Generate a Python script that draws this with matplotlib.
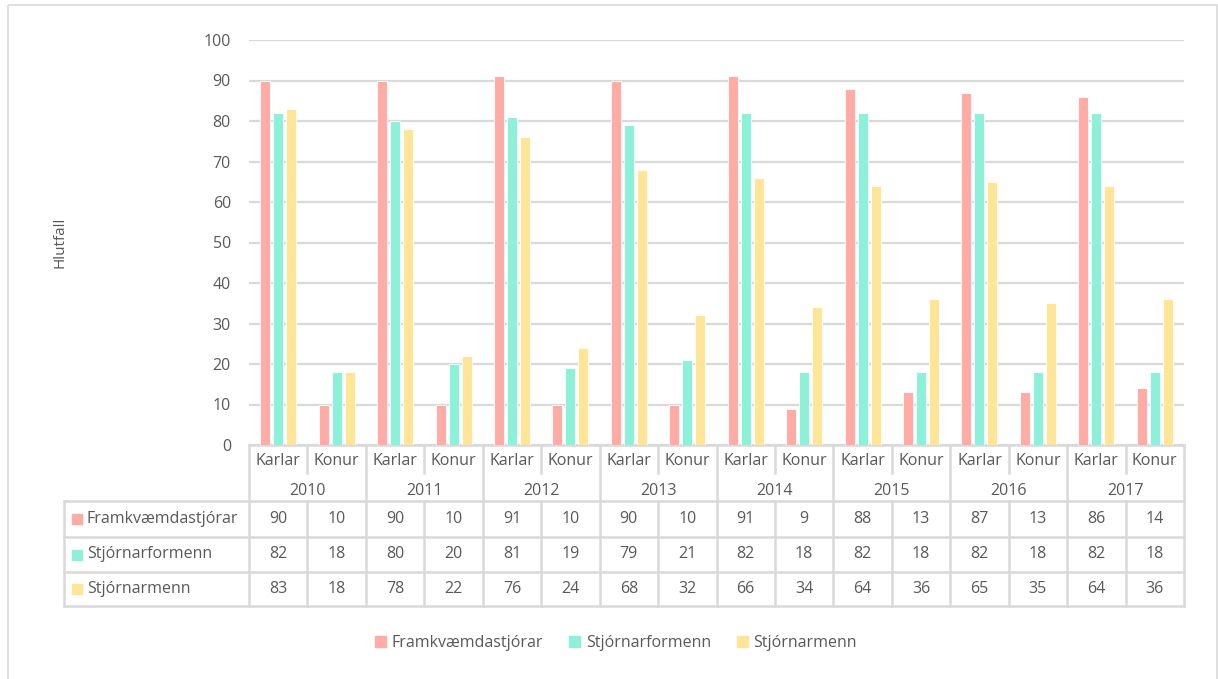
import matplotlib
matplotlib.use("Agg")
import matplotlib.pyplot as plt
from matplotlib.patches import Rectangle
from matplotlib.lines import Line2D

# Data
years = ["2010", "2011", "2012", "2013", "2014", "2015", "2016", "2017"]
genders = ["Karlar", "Konur"]
series_names = ["Framkvæmdastjórar", "Stjórnarformenn", "Stjórnarmenn"]
framkvaemdastjorar = [90, 10, 90, 10, 91, 10, 90, 10, 91, 9, 88, 13, 87, 13, 86, 14]
stjornarformenn = [82, 18, 80, 20, 81, 19, 79, 21, 82, 18, 82, 18, 82, 18, 82, 18]
stjornarmenn = [83, 18, 78, 22, 76, 24, 68, 32, 66, 34, 64, 36, 65, 35, 64, 36]
yticks = [0, 10, 20, 30, 40, 50, 60, 70, 80, 90, 100]
ylabel = "Hlutfall"

series = [framkvaemdastjorar, stjornarformenn, stjornarmenn]
colors = ["#FFACA7", "#8DF0D8", "#FFE598"]
text_color = "#595959"
grid_color = "#D9D9D9"

plt.rcParams["font.family"] = ["Open Sans", "DejaVu Sans"]

W, H = 1218, 679
fig = plt.figure(figsize=(W / 100, H / 100), dpi=100)

# Main bar axes
ax_l, ax_r, ax_t, ax_b = 249, 1184, 40, 445
ax = fig.add_axes([ax_l / W, 1 - ax_b / H, (ax_r - ax_l) / W, (ax_b - ax_t) / H])
n = len(years) * len(genders)
ax.set_xlim(-0.5, n - 0.5)
ax.set_ylim(0, 100)
px_per_cat = (ax_r - ax_l) / n
bw = 10 / px_per_cat
off = 13 / px_per_cat
for k, (vals, col, name) in enumerate(zip(series, colors, series_names)):
    xs = [i + (k - 1) * off for i in range(n)]
    ax.bar(xs, vals, width=bw, color=col, edgecolor="white", linewidth=0.6,
           label=name, zorder=3)

ax.set_yticks(yticks)
ax.set_yticklabels([str(v) for v in yticks])
ax.tick_params(axis="y", length=0, pad=13, labelsize=11.5, labelcolor=text_color)
ax.set_xticks([])
ax.grid(axis="y", color=grid_color, linewidth=1.6, zorder=0)
for s in ax.spines.values():
    s.set_visible(False)

# Overlay in pixel coordinates for the data table and frame
ov = fig.add_axes([0, 0, 1, 1], zorder=-1)
ov.set_xlim(0, W)
ov.set_ylim(H, 0)
ov.axis("off")
ov.patch.set_alpha(0)

# outer frame
ov.add_patch(Rectangle((8, 5), 1209, 700, fill=False, edgecolor=grid_color, linewidth=1.2))

def xpix(xdata):
    return ax.transData.transform((xdata, 0))[0]

edges = [xpix(i - 0.5) for i in range(n + 1)]
centers = [xpix(i) for i in range(n)]

lw = 1.8
hdr_top, hdr_mid, hdr_bot = 445, 473, 501
row_lines = [501, 537, 572, 606]
tbl_left = 64
fs = 11.5

# header top line
ov.add_line(Line2D([edges[0], edges[-1]], [hdr_top, hdr_top], color=grid_color, lw=lw))
# vertical lines
for i, e in enumerate(edges):
    if i % 2 == 0:
        ov.add_line(Line2D([e, e], [hdr_top, row_lines[-1]], color=grid_color, lw=lw))
    else:
        ov.add_line(Line2D([e, e], [hdr_top, hdr_mid], color=grid_color, lw=lw))
        ov.add_line(Line2D([e, e], [row_lines[0], row_lines[-1]], color=grid_color, lw=lw))
ov.add_line(Line2D([tbl_left, tbl_left], [row_lines[0], row_lines[-1]], color=grid_color, lw=lw))
for y in row_lines:
    ov.add_line(Line2D([tbl_left, edges[-1]], [y, y], color=grid_color, lw=lw))

# header texts
for i in range(n):
    ov.text(centers[i], 461, genders[i % 2], ha="center", va="center",
            fontsize=fs, color=text_color)
for j, yr in enumerate(years):
    cx = (edges[2 * j] + edges[2 * j + 2]) / 2
    ov.text(cx, 491, yr, ha="center", va="center", fontsize=fs, color=text_color)

# data rows
for r, (vals, col, name) in enumerate(zip(series, colors, series_names)):
    cy = (row_lines[r] + row_lines[r + 1]) / 2
    ov.add_patch(Rectangle((72, cy - 5), 10, 10, color=col))
    ov.text(87, cy, name, ha="left", va="center", fontsize=fs, color=text_color)
    for i, v in enumerate(vals):
        ov.text(centers[i], cy, str(v), ha="center", va="center",
                fontsize=fs, color=text_color)

# y label
fig.text(60 / W, 1 - 242 / H, ylabel, rotation=90, ha="center", va="center",
         fontsize=11, color=text_color)

# legend
handles = [Rectangle((0, 0), 1, 1, color=c) for c in colors]
leg = fig.legend(handles, series_names, loc="center", bbox_to_anchor=(616 / W, 1 - 643 / H),
                 ncol=3, frameon=False, fontsize=fs, handlelength=0.7, handleheight=0.7,
                 handletextpad=0.35, columnspacing=1.6)
for t in leg.get_texts():
    t.set_color(text_color)

fig.savefig("out.png", dpi=100)
